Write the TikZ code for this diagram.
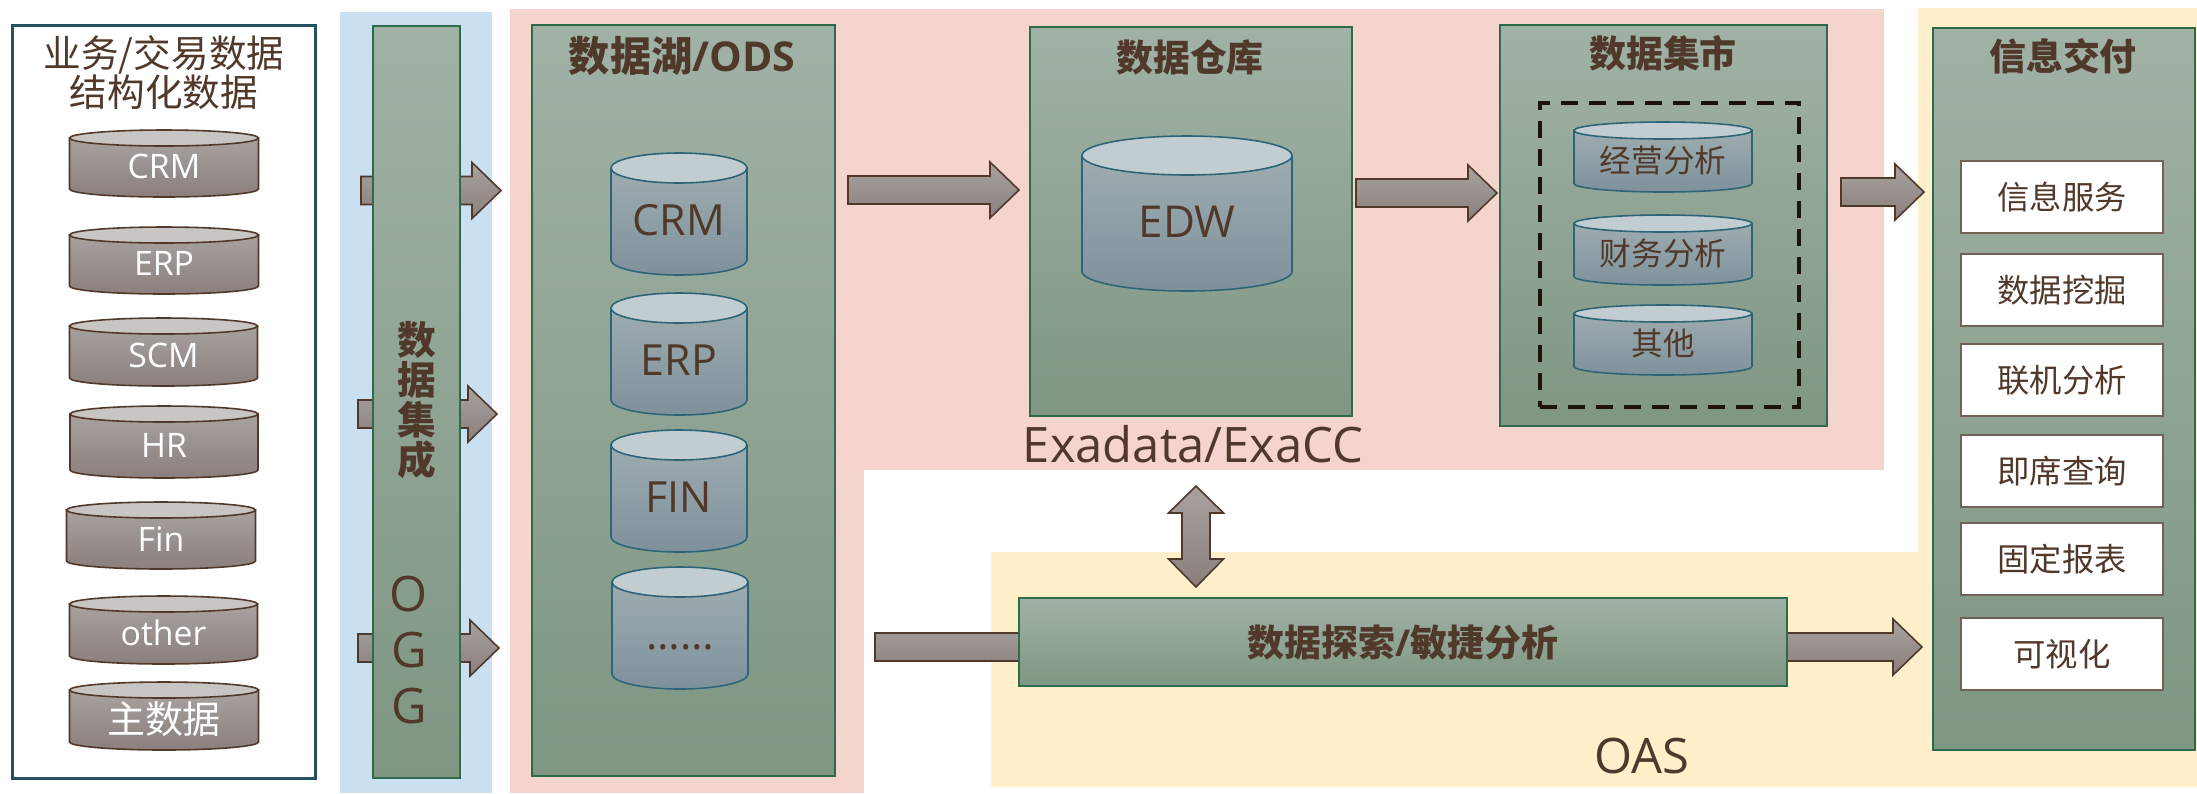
\documentclass[tikz,border=0pt]{standalone}
\usepackage{fontspec}
\setmainfont{Open Sans}
\newfontfamily\cjk{Noto Sans CJK SC}
\usepackage{tikz}
\usetikzlibrary{calc}

\definecolor{inkbrown}{HTML}{50392B}
\definecolor{pinkzone}{HTML}{F4D4CC}
\definecolor{bluezone}{HTML}{CADFF0}
\definecolor{yellowzone}{HTML}{FFF0CB}
\definecolor{greenline}{HTML}{2F6B4A}
\definecolor{greentop}{HTML}{A0B2A5}
\definecolor{greenbottom}{HTML}{7F9683}
\definecolor{warmtop}{HTML}{A8A29E}
\definecolor{warmbottom}{HTML}{8A7F7C}
\definecolor{warmcap}{HTML}{C9C5C2}
\definecolor{steeltop}{HTML}{9DACB0}
\definecolor{steelbottom}{HTML}{7E919B}
\definecolor{steelcap}{HTML}{C2CDD1}
\definecolor{steelline}{HTML}{2E6478}

\newcommand{\tightlines}{\lineskiplimit=-10pt\relax}

\tikzset{
  greenbox/.style={draw=greenline,line width=0.45pt,top color=greentop,bottom color=greenbottom},
  title/.style={text=inkbrown,inner sep=0pt,font=\fontsize{10.5}{12}\selectfont\bfseries},
  tag/.style={text=inkbrown,inner sep=0pt,font=\fontsize{13.9}{16}\selectfont},
  menubox/.style={draw=inkbrown!80,line width=0.6pt,fill=white,text=inkbrown,minimum width=2.02cm,minimum height=0.715cm,inner sep=0pt,font=\fontsize{9.2}{11}\selectfont\cjk},
  graydrum/.style={draw=inkbrown,line width=0.45pt,top color=warmtop,bottom color=warmbottom},
  graydrumcap/.style={draw=inkbrown,line width=0.45pt,fill=warmcap},
  bluedrum/.style={draw=steelline,line width=0.45pt,top color=steeltop,bottom color=steelbottom},
  bluedrumcap/.style={draw=steelline,line width=0.45pt,fill=steelcap},
  fatarrow/.style={draw=inkbrown,line width=0.45pt,top color=warmtop,bottom color=warmbottom,
    to path={($(\tikztostart)+(0,-14)$) -- ($(\tikztotarget)+(-29,-14)$) -- ($(\tikztotarget)+(-29,-28)$) -- (\tikztotarget)
      -- ($(\tikztotarget)+(-29,28)$) -- ($(\tikztotarget)+(-29,14)$) -- ($(\tikztostart)+(0,14)$) -- cycle}},
  twowayarrow/.style={draw=inkbrown,line width=0.45pt,top color=warmtop,bottom color=warmbottom,
    to path={(\tikztostart) -- ($(\tikztostart)+(27.5,27)$) -- ($(\tikztostart)+(14,27)$) -- ($(\tikztotarget)+(14,-28)$)
      -- ($(\tikztotarget)+(27.5,-28)$) -- (\tikztotarget) -- ($(\tikztotarget)+(-27.5,-28)$) -- ($(\tikztotarget)+(-14,-28)$)
      -- ($(\tikztostart)+(-14,27)$) -- ($(\tikztostart)+(-27.5,27)$) -- cycle}}
}

% style, name, x, top, bottom, half width, cap height, text
\newcommand{\drum}[8]{
  \draw[#1] ({#3-#6},{#4+#7}) -- ({#3-#6},{#5-#7})
    .. controls ({#3-#6},{#5-0.45*#7}) and ({#3-0.55*#6},#5) .. (#3,#5)
    .. controls ({#3+0.55*#6},#5) and ({#3+#6},{#5-0.45*#7}) .. ({#3+#6},{#5-#7})
    -- ({#3+#6},{#4+#7}) -- cycle;
  \draw[#1cap] (#3,{#4+#7}) ellipse [x radius=#6,y radius=#7];
  \node[inner sep=0pt] (#2) at (#3,{(#4+#5)/2+0.4*#7}) {#8};
}

\begin{document}
\begin{tikzpicture}[x=0.01cm,y=-0.01cm]
  \useasboundingbox (0,0) rectangle (2197,793);

  % zones
  \fill[bluezone] (340,12) rectangle (492,793);
  \fill[pinkzone] (510,9) rectangle (864,793);
  \fill[pinkzone] (864,9) rectangle (1884,470);
  \fill[yellowzone] (1918,8) -- (2197,8) -- (2197,787) -- (991,787) -- (991,552) -- (1918,552) -- cycle;

  % arrows
  \coordinate (sourcea) at (361,190.5);
  \coordinate (sourceb) at (358,414);
  \coordinate (sourcec) at (358,648);
  \coordinate (lakea) at (501,190.5);
  \coordinate (lakeb) at (497,414);
  \coordinate (lakec) at (499,648);
  \coordinate (lakeout) at (848,190);
  \coordinate (edwin) at (1019,190);
  \coordinate (edwout) at (1356,193);
  \coordinate (martin) at (1497,193);
  \coordinate (martout) at (1841,192);
  \coordinate (deliverin) at (1924,192);
  \coordinate (exploreout) at (875,647);
  \coordinate (deliverlow) at (1922,647);
  \coordinate (exaend) at (1196,486);
  \coordinate (oasend) at (1196,587);
  \draw[fatarrow] (sourcea) to (lakea);
  \draw[fatarrow] (sourceb) to (lakeb);
  \draw[fatarrow] (sourcec) to (lakec);
  \draw[fatarrow] (lakeout) to (edwin);
  \draw[fatarrow] (edwout) to (martin);
  \draw[fatarrow] (martout) to (deliverin);
  \draw[fatarrow] (exploreout) to (deliverlow);
  \draw[twowayarrow] (exaend) to (oasend);

  % source data
  \node[draw=steelline!80!black,line width=0.9pt,fill=white,minimum width=3.03cm,minimum height=7.53cm] (source) at (164,402) {};
  \node[text=inkbrown,inner sep=0pt,align=center,font=\fontsize{10.7}{11.1}\selectfont\tightlines\cjk] (sourcetitle) at (164,73) {业务/交易数据\\结构化数据};
  \begin{scope}[every node/.style={text=white,font=\fontsize{9.6}{11}\selectfont}]
    \drum{graydrum}{scrm}{164}{130}{197}{94.5}{8}{CRM}
    \drum{graydrum}{serp}{164}{227}{294}{94.5}{8}{ERP}
    \drum{graydrum}{sscm}{163.5}{318}{386}{94}{8}{SCM}
    \drum{graydrum}{shr}{164}{406}{478}{94}{8}{HR}
    \drum{graydrum}{sfin}{161}{502}{569}{94.5}{8}{Fin}
    \drum{graydrum}{sother}{163.5}{596}{664}{94}{8}{other}
    \drum{graydrum}{smain}{164}{682}{750}{94.5}{8}{\cjk\fontsize{10.8}{12}\selectfont 主数据}
  \end{scope}

  % integration bar
  \node[greenbox,minimum width=0.87cm,minimum height=7.52cm] (bar) at (416.5,402) {};
  \node[title,align=center,font=\fontsize{11}{11.4}\selectfont\tightlines\cjk\bfseries] (bartitle) at (417,400) {数\\据\\集\\成};
  \node[tag,align=center,font=\fontsize{13.9}{16}\selectfont] (ogg) at (409,650) {O\\G\\G};

  % lake
  \node[greenbox,minimum width=3.03cm,minimum height=7.51cm] (lake) at (683.5,400.5) {};
  \node[title,font=\fontsize{11.7}{13}\selectfont\bfseries] (laketitle) at (682,56) {\cjk 数据湖\normalfont\bfseries/ODS};
  \begin{scope}[every node/.style={text=inkbrown,font=\fontsize{12.2}{14}\selectfont}]
    \drum{bluedrum}{lcrm}{679}{153}{275}{68}{15}{CRM}
    \drum{bluedrum}{lerp}{679}{293}{415}{68}{15}{ERP}
    \drum{bluedrum}{lfin}{679}{430}{552}{68}{15}{FIN}
    \drum{bluedrum}{ldots}{680}{567}{689}{68}{15}{\vphantom{C}……}
  \end{scope}

  % warehouse
  \node[greenbox,minimum width=3.22cm,minimum height=3.89cm] (edw) at (1191,221.5) {};
  \node[title] (edwtitle) at (1190,57) {\cjk 数据仓库};
  \begin{scope}[every node/.style={text=inkbrown,font=\fontsize{12.5}{14}\selectfont}]
    \drum{bluedrum}{edwdb}{1187}{136}{291}{105}{19.5}{EDW}
  \end{scope}
  \node[tag] (exa) at (1193,444) {Exadata/ExaCC};

  % marts
  \node[greenbox,minimum width=3.27cm,minimum height=4.01cm] (mart) at (1663.5,225.5) {};
  \node[title] (marttitle) at (1663,53) {\cjk 数据集市};
  \node[draw=black!85!brown,line width=1.1pt,dash pattern=on 0.17cm off 0.11cm,minimum width=2.59cm,minimum height=3.04cm] (martgroup) at (1669.5,255) {};
  \begin{scope}[every node/.style={text=inkbrown,font=\fontsize{9}{11}\selectfont\cjk}]
    \drum{bluedrum}{mbiz}{1663}{122}{192}{89}{8.5}{经营分析}
    \drum{bluedrum}{mfin}{1663}{215}{285}{89}{8.5}{财务分析}
    \drum{bluedrum}{mother}{1663}{305}{375}{89}{8.5}{其他}
  \end{scope}

  % explore
  \node[greenbox,minimum width=7.68cm,minimum height=0.88cm] (explore) at (1403,642) {};
  \node[title] (exploretitle) at (1403,643) {\cjk 数据探索\normalfont\bfseries/\cjk 敏捷分析};
  \node[tag] (oas) at (1642,756) {OAS};

  % delivery
  \node[greenbox,minimum width=2.62cm,minimum height=7.22cm] (deliver) at (2064,389) {};
  \node[title] (delivertitle) at (2063,56) {\cjk 信息交付};
  \node[menubox] (service) at (2062,197) {信息服务};
  \node[menubox] (mining) at (2062,290) {数据挖掘};
  \node[menubox] (olap) at (2062,380) {联机分析};
  \node[menubox] (adhoc) at (2062,471) {即席查询};
  \node[menubox] (report) at (2062,559) {固定报表};
  \node[menubox] (visual) at (2062,654) {可视化};
\end{tikzpicture}
\end{document}
